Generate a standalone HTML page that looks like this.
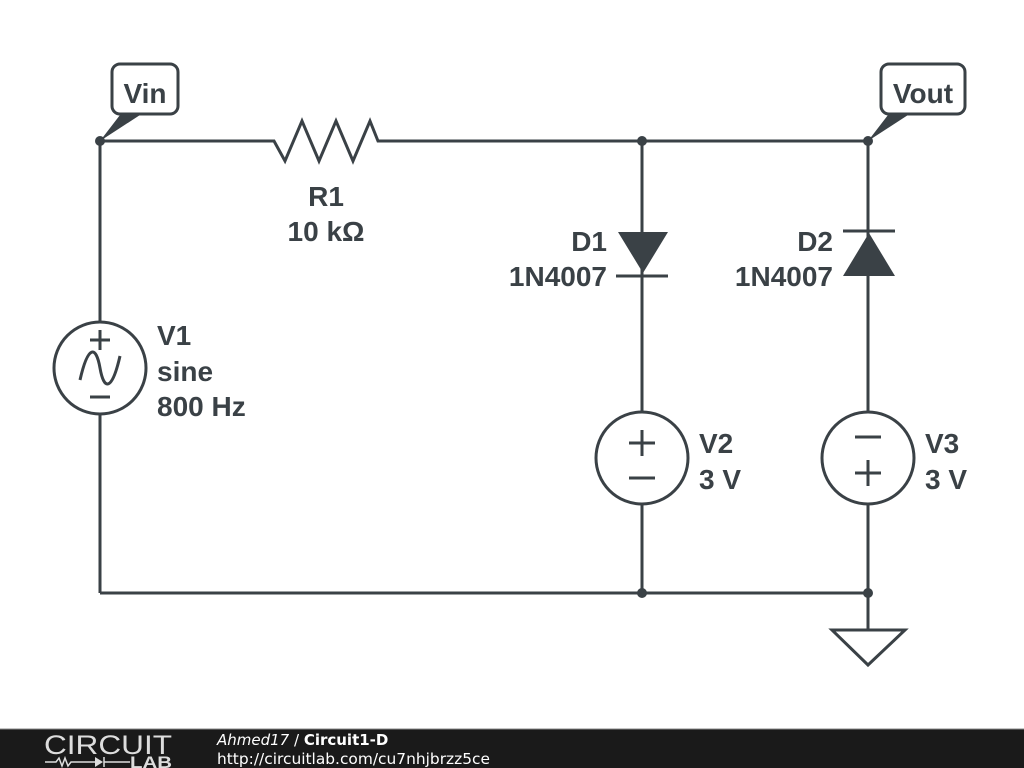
<!DOCTYPE html>
<html><head><style>
body{margin:0;background:#fff;width:1024px;height:768px;overflow:hidden}
svg{display:block}
.t{font-family:"Liberation Sans",sans-serif;font-weight:bold;font-size:28px;fill:#3a4146}
</style></head><body>
<svg width="1024" height="768" viewBox="0 0 1024 768">
<g stroke="#3a4146" stroke-width="3" fill="none" stroke-linejoin="miter">
<polyline points="100,141 274,141 285,161 302,121 319,161 336,121 353,161 370,121 378,141 868,141"/>
<line x1="100" y1="141" x2="100" y2="322"/>
<line x1="100" y1="414" x2="100" y2="593"/>
<line x1="100" y1="593" x2="868" y2="593"/>
<line x1="642" y1="141" x2="642" y2="412"/>
<line x1="642" y1="504" x2="642" y2="593"/>
<line x1="616" y1="276" x2="668" y2="276"/>
<line x1="868" y1="141" x2="868" y2="412"/>
<line x1="868" y1="504" x2="868" y2="630"/>
<line x1="843" y1="231" x2="895" y2="231"/>
<circle cx="100" cy="368" r="46"/>
<circle cx="642" cy="458" r="46"/>
<circle cx="868" cy="458" r="46"/>
<line x1="100" y1="330" x2="100" y2="350"/><line x1="90" y1="340" x2="110" y2="340"/>
<line x1="90" y1="397" x2="110" y2="397"/>
<path d="M80,380 C88,345 96,345 100,368 C104,391 112,391 120,356"/>
<line x1="642" y1="430" x2="642" y2="456"/><line x1="629" y1="443" x2="655" y2="443"/>
<line x1="629" y1="478" x2="655" y2="478"/>
<line x1="855" y1="437" x2="881" y2="437"/>
<line x1="868" y1="460" x2="868" y2="486"/><line x1="855" y1="473" x2="881" y2="473"/>
<polygon points="832,630 905,630 868,665"/>
<rect x="112" y="64" width="66" height="50" rx="8" fill="#fff"/>
<rect x="881" y="64" width="84" height="50" rx="8" fill="#fff"/>
</g>
<g fill="#3a4146">
<polygon points="618,232 668,232 643,273"/>
<polygon points="843,276 895,276 869,233"/>
<circle cx="100" cy="141" r="5"/>
<circle cx="642" cy="141" r="5"/>
<circle cx="868" cy="141" r="5"/>
<circle cx="642" cy="593" r="5"/>
<circle cx="868" cy="593" r="5"/>
<polygon points="100,141 120,115 140,115"/>
<polygon points="868,141 888,115 908,115"/>
</g>
<text class="t" x="145" y="103" text-anchor="middle">Vin</text>
<text class="t" x="923" y="103" text-anchor="middle">Vout</text>
<text class="t" x="326" y="206" text-anchor="middle">R1</text>
<text class="t" x="326" y="241" text-anchor="middle">10 kΩ</text>
<text class="t" x="607" y="251" text-anchor="end">D1</text>
<text class="t" x="607" y="286" text-anchor="end">1N4007</text>
<text class="t" x="833" y="251" text-anchor="end">D2</text>
<text class="t" x="833" y="286" text-anchor="end">1N4007</text>
<text class="t" x="157" y="345">V1</text>
<text class="t" x="157" y="381">sine</text>
<text class="t" x="157" y="416">800 Hz</text>
<text class="t" x="699" y="453">V2</text>
<text class="t" x="699" y="489">3 V</text>
<text class="t" x="925" y="453">V3</text>
<text class="t" x="925" y="489">3 V</text>
<rect x="0" y="729" width="1024" height="39" fill="#1a1a1a"/>
<line x1="0" y1="729" x2="1024" y2="729" stroke="#888" stroke-width="1"/>
<text x="44" y="754" font-family="Liberation Sans,sans-serif" font-size="27" fill="#ddd" textLength="128" lengthAdjust="spacingAndGlyphs">CIRCUIT</text>
<path d="M45,762 H56 l3,-4 3,8 3,-8 3,8 3,-4 H95" stroke="#ddd" stroke-width="1.5" fill="none"/>
<polygon points="95,757 95,767 103,762" fill="#ddd"/>
<line x1="104" y1="757" x2="104" y2="767" stroke="#ddd" stroke-width="1.5"/>
<line x1="104" y1="762" x2="130" y2="762" stroke="#ddd" stroke-width="1.5"/>
<text x="130" y="768" font-family="Liberation Sans,sans-serif" font-weight="bold" font-size="17" fill="#ddd" textLength="42" lengthAdjust="spacingAndGlyphs">LAB</text>
<text x="217" y="745" font-family="DejaVu Sans,sans-serif" font-size="15" fill="#fff"><tspan font-style="italic">Ahmed17</tspan> / <tspan font-weight="bold">Circuit1-D</tspan></text>
<text x="217" y="764" font-family="DejaVu Sans,sans-serif" font-size="15" fill="#fff" textLength="273" lengthAdjust="spacingAndGlyphs">http://circuitlab.com/cu7nhjbrzz5ce</text>
</svg>
</body></html>
